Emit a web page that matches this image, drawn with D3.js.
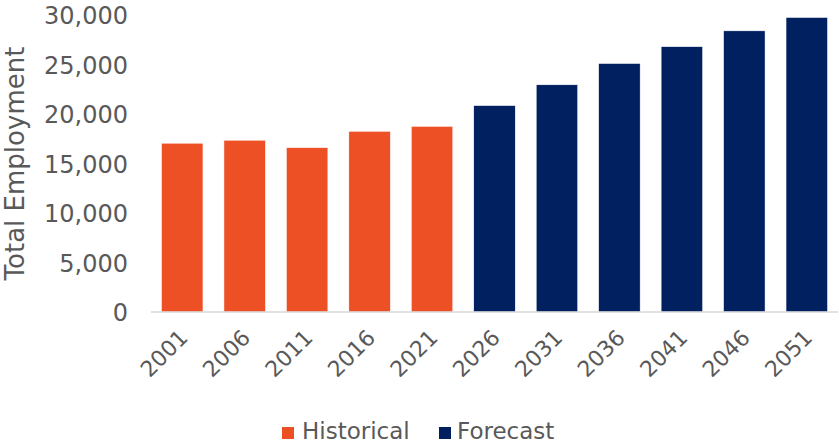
<!DOCTYPE html>
<html>
<head>
<meta charset="utf-8">
<script src="https://cdn.jsdelivr.net/npm/d3@7"></script>
<style>
  html, body { margin: 0; padding: 0; background: #ffffff; }
  svg { display: block; }
  text { font-family: "DejaVu Sans", sans-serif; fill: #595959; }
</style>
</head>
<body>
<svg id="chart" width="839" height="445"></svg>
<script>
const years = ["2001","2006","2011","2016","2021","2026","2031","2036","2041","2046","2051"];
const employment = [17050, 17350, 16600, 18250, 18750, 20850, 22950, 25100, 26800, 28400, 29750];
const seriesOf = ["Historical","Historical","Historical","Historical","Historical","Forecast","Forecast","Forecast","Forecast","Forecast","Forecast"];
const seriesNames = ["Historical", "Forecast"];
const yTicks = [0, 5000, 10000, 15000, 20000, 25000, 30000];
const yTitle = "Total Employment";

const colors = { "Historical": "#EE5026", "Forecast": "#002060" };

const svg = d3.select("#chart");
const plotLeft = 151, plotRight = 838, plotTop = 15, plotBottom = 312;

const x = d3.scaleBand().domain(years).range([plotLeft, plotRight]).paddingInner(0.336).paddingOuter(0.168);
const y = d3.scaleLinear().domain([0, 30000]).range([plotBottom, plotTop]);

const data = years.map((yr, i) => ({ year: yr, value: employment[i], series: seriesOf[i] }));

// bars
svg.append("g").selectAll("rect").data(data).join("rect")
  .attr("x", d => x(d.year))
  .attr("y", d => y(d.value))
  .attr("width", x.bandwidth())
  .attr("height", d => y(0) - y(d.value))
  .attr("fill", d => colors[d.series])
  .attr("stroke", "#ffffff")
  .attr("stroke-width", 0.5);

// y axis
const yAxis = svg.append("g")
  .attr("transform", `translate(${plotLeft - 23},0)`)
  .call(d3.axisLeft(y).tickValues(yTicks).tickSize(0).tickPadding(0).tickFormat(d3.format(",")));
yAxis.select(".domain").remove();
yAxis.selectAll("text")
  .attr("x", 0)
  .attr("dy", "0.36em")
  .style("font-family", "'DejaVu Sans', sans-serif")
  .style("font-size", "24px")
  .style("fill", "#595959");

// x axis
const xAxis = svg.append("g")
  .attr("transform", `translate(0,${plotBottom})`)
  .call(d3.axisBottom(x).tickSize(0).tickPadding(0));
xAxis.select(".domain")
  .attr("stroke", "#d9d9d9")
  .attr("stroke-width", 1.5)
  .attr("d", `M${plotLeft},0H${plotRight}`);
xAxis.selectAll(".tick text")
  .attr("x", 0).attr("y", 0).attr("dy", 0)
  .attr("text-anchor", "end")
  .attr("transform", "translate(7,27) rotate(-45)")
  .style("font-family", "'DejaVu Sans', sans-serif")
  .style("font-size", "22px")
  .style("fill", "#595959");

// y title
svg.append("text")
  .attr("transform", `translate(24,${(42 + 285) / 2}) rotate(-90)`)
  .attr("text-anchor", "middle")
  .style("font-size", "26px")
  .style("fill", "#595959")
  .text(yTitle);

// legend
const legendItems = [
  { name: seriesNames[0], sx: 282, tx: 302 },
  { name: seriesNames[1], sx: 439, tx: 457 }
];
const lg = svg.append("g");
legendItems.forEach(it => {
  lg.append("rect").attr("x", it.sx).attr("y", 427).attr("width", 12).attr("height", 12)
    .attr("fill", colors[it.name]);
  lg.append("text").attr("x", it.tx).attr("y", 439)
    .style("font-size", "23px").style("fill", "#595959").text(it.name);
});
</script>
</body>
</html>
